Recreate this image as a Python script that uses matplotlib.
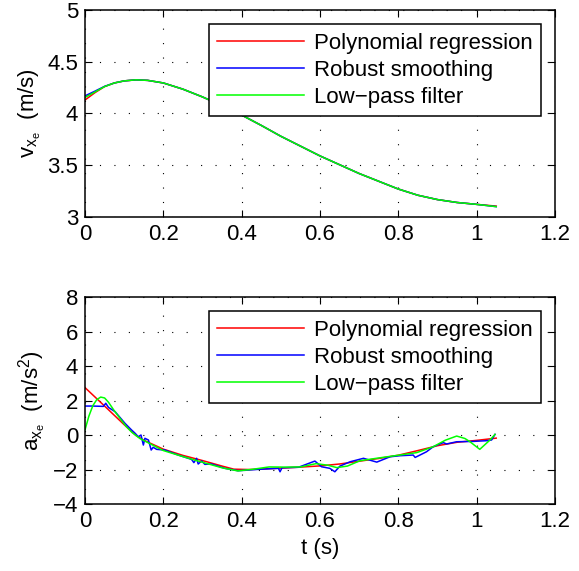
import matplotlib
matplotlib.use('Agg')
import matplotlib.pyplot as plt

plt.rcParams['font.family'] = ['Liberation Sans', 'DejaVu Sans']
plt.rcParams['mathtext.fontset'] = 'custom'
plt.rcParams['mathtext.rm'] = 'Liberation Sans'
plt.rcParams['mathtext.it'] = 'Liberation Sans'

# velocity (top)
t_v = [0, 0.025, 0.05, 0.075, 0.1, 0.13, 0.16, 0.2, 0.25, 0.3, 0.35, 0.4, 0.45,
       0.5, 0.55, 0.6, 0.65, 0.7, 0.75, 0.8, 0.85, 0.9, 0.95, 1.0, 1.05]
v_poly = [4.13, 4.20, 4.26, 4.295, 4.315, 4.325, 4.32, 4.295, 4.235, 4.16, 4.075, 3.985, 3.885,
          3.78, 3.685, 3.59, 3.505, 3.42, 3.345, 3.27, 3.21, 3.168, 3.14, 3.122, 3.105]
v_robust = [4.17, 4.215, 4.262, 4.295, 4.315, 4.325, 4.32, 4.295, 4.235, 4.16, 4.075, 3.985, 3.885,
            3.78, 3.685, 3.59, 3.505, 3.42, 3.345, 3.27, 3.21, 3.168, 3.14, 3.122, 3.10]
v_lowpass = [4.155, 4.207, 4.26, 4.295, 4.315, 4.325, 4.32, 4.295, 4.235, 4.16, 4.075, 3.985, 3.885,
             3.78, 3.685, 3.59, 3.505, 3.42, 3.345, 3.27, 3.21, 3.168, 3.14, 3.122, 3.10]

# acceleration (bottom)
t_a_poly = [0, 0.05, 0.1, 0.13, 0.15, 0.2, 0.25, 0.3, 0.35, 0.38, 0.42, 0.5, 0.55,
            0.6, 0.65, 0.7, 0.75, 0.8, 0.85, 0.9, 0.95, 1.0, 1.05]
a_poly = [2.75, 1.68, 0.6, -0.02, -0.3, -0.82, -1.18, -1.48, -1.8, -1.98, -2.0, -1.92, -1.86,
          -1.79, -1.68, -1.52, -1.36, -1.17, -0.9, -0.62, -0.42, -0.31, -0.18]

t_a_robust = [0, 0.02, 0.047, 0.053, 0.06, 0.077, 0.102, 0.119, 0.128, 0.136, 0.143, 0.149,
              0.153, 0.162, 0.169, 0.174, 0.183, 0.204, 0.238, 0.272, 0.278, 0.285, 0.289,
              0.298, 0.306, 0.323, 0.357, 0.391, 0.443, 0.494, 0.498, 0.503, 0.545, 0.587,
              0.604, 0.625, 0.638, 0.651, 0.677, 0.711, 0.745, 0.779, 0.804, 0.838, 0.843,
              0.872, 0.889, 0.915, 0.923, 0.949, 0.991, 1.025, 1.038, 1.047]
a_robust = [1.68, 1.68, 1.66, 1.84, 1.6, 1.35, 0.68, 0.29, 0.1, -0.1, 0.0, -0.58,
            -0.19, -0.29, -0.87, -0.71, -0.83, -0.87, -1.16, -1.41, -1.6, -1.35, -1.68,
            -1.5, -1.7, -1.68, -1.93, -2.07, -1.99, -1.93, -2.13, -1.9, -1.87, -1.51,
            -1.84, -1.93, -2.13, -1.8, -1.55, -1.35, -1.57, -1.26, -1.2, -1.16, -1.3,
            -0.97, -0.68, -0.44, -0.52, -0.39, -0.37, -0.33, -0.29, 0.04]

t_a_lowpass = [0, 0.01, 0.02, 0.03, 0.04, 0.05, 0.06, 0.075, 0.09, 0.105, 0.12, 0.14, 0.17,
               0.2, 0.25, 0.3, 0.35, 0.39, 0.43, 0.47, 0.51, 0.55, 0.59, 0.62, 0.643, 0.67,
               0.702, 0.75, 0.804, 0.847, 0.889, 0.92, 0.949, 0.97, 0.983, 1.008, 1.034, 1.047]
a_lowpass = [0.3, 1.1, 1.7, 2.05, 2.2, 2.15, 1.9, 1.4, 0.95, 0.5, 0.15, -0.2, -0.55,
             -0.9, -1.25, -1.58, -1.9, -2.08, -1.98, -1.85, -1.86, -1.85, -1.66, -1.75, -1.89, -1.8,
             -1.49, -1.33, -1.16, -1.02, -0.68, -0.3, -0.06, -0.2, -0.39, -0.83, -0.29, 0.04]

labels = ['Polynomial regression', 'Robust smoothing', 'Low\u2212pass filter']
colors = ['#ff0000', '#0000ff', '#00ff00']
fs = 16

fig = plt.figure(figsize=(5.79, 5.71), dpi=100)
ax1 = fig.add_axes([0.1468, 0.62, 0.8117, 0.3625])
ax2 = fig.add_axes([0.1468, 0.1173, 0.8117, 0.3625])


def style(ax):
    ax.set_xlim(0, 1.2)
    ax.set_xticks([0, 0.2, 0.4, 0.6, 0.8, 1.0, 1.2])
    ax.set_xticklabels(['0', '0.2', '0.4', '0.6', '0.8', '1', '1.2'])
    ax.tick_params(direction='in', top=True, right=True, labelsize=fs, length=5, width=0.8, pad=5)
    ax.grid(True, color='black', linewidth=0.8, linestyle=(0, (1, 12)))
    for s in ax.spines.values():
        s.set_linewidth(1.1)


ax1.plot(t_v, v_poly, color=colors[0], lw=1.1, label=labels[0])
ax1.plot(t_v, v_robust, color=colors[1], lw=1.1, label=labels[1])
ax1.plot(t_v, v_lowpass, color=colors[2], lw=1.1, label=labels[2])
ax1.set_ylim(3, 5)
ax1.set_yticks([3, 3.5, 4, 4.5, 5])
ax1.set_yticklabels(['3', '3.5', '4', '4.5', '5'])
style(ax1)
ax1.set_ylabel(r'$\mathrm{v_{x_e}}$  (m/s)', fontsize=fs, labelpad=3)

ax2.plot(t_a_poly, a_poly, color=colors[0], lw=1.1, label=labels[0])
ax2.plot(t_a_robust, a_robust, color=colors[1], lw=1.1, label=labels[1])
ax2.plot(t_a_lowpass, a_lowpass, color=colors[2], lw=1.1, label=labels[2])
ax2.set_ylim(-4, 8)
ax2.set_yticks([-4, -2, 0, 2, 4, 6, 8])
ax2.set_yticklabels(['\u22124', '\u22122', '0', '2', '4', '6', '8'])
style(ax2)
ax2.set_ylabel(r'$\mathrm{a_{x_e}}$  (m/s$^2$)', fontsize=fs, labelpad=3)
ax2.set_xlabel('t (s)', fontsize=fs, labelpad=4)

for ax in (ax1, ax2):
    leg = ax.legend(loc='upper right', bbox_to_anchor=(0.970, 0.932), fontsize=fs,
                    fancybox=False, framealpha=1, edgecolor='black', handlelength=3.9,
                    handletextpad=0.45, labelspacing=0.28, borderpad=0.38, borderaxespad=0)
    leg.get_frame().set_linewidth(1.1)

fig.savefig('out.png', dpi=100)
